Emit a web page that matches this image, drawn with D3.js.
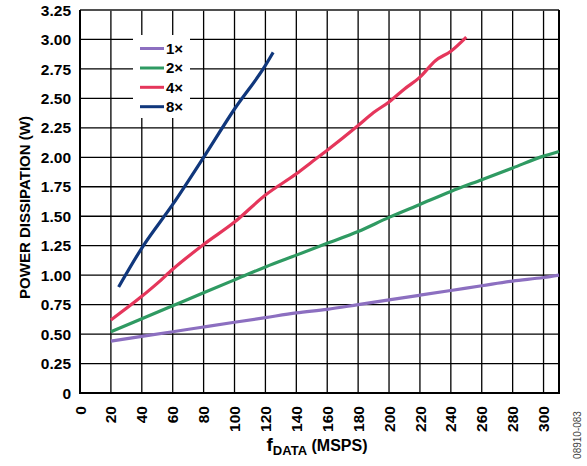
<!DOCTYPE html>
<html><head><meta charset="utf-8">
<script src="https://cdn.jsdelivr.net/npm/d3@7"></script>
<style>
body{margin:0;background:#fff;}
svg text{font-family:"Liberation Sans",Arial,sans-serif;font-weight:bold;}
</style></head>
<body><svg id="c" width="587" height="466"></svg>
<script>
const xTicks = [0,20,40,60,80,100,120,140,160,180,200,220,240,260,280,300];
const yTicks = [0,0.25,0.5,0.75,1.0,1.25,1.5,1.75,2.0,2.25,2.5,2.75,3.0,3.25];
const seriesNames = ["1×","2×","4×","8×"];
const seriesColors = ["#8c6fc0","#2f9a62","#e5365b","#10377c"];
const x1 = [20,40,60,80,100,120,140,160,180,200,220,240,260,280,300,310];
const y1 = [0.44,0.48,0.52,0.56,0.60,0.64,0.68,0.71,0.75,0.79,0.83,0.87,0.91,0.95,0.98,1.00];
const x2 = [20,40,60,80,100,120,140,160,180,200,220,240,260,280,300,310];
const y2 = [0.52,0.63,0.74,0.85,0.96,1.07,1.17,1.27,1.37,1.49,1.60,1.71,1.81,1.91,2.01,2.05];
const x4 = [20,40,50,60,80,100,120,140,150,160,180,190,200,210,220,230,240,250];
const y4 = [0.62,0.82,0.93,1.05,1.26,1.45,1.68,1.86,1.96,2.06,2.27,2.38,2.47,2.58,2.68,2.82,2.90,3.02];
const x8 = [25,40,60,80,100,120,125];
const y8 = [0.90,1.23,1.60,2.00,2.41,2.78,2.89];

const svg = d3.select("#c");
const L=80,R=559,T=10,B=393;
const x = d3.scaleLinear().domain([0,310]).range([L,R]);
const y = d3.scaleLinear().domain([0,3.25]).range([B,T]);

// grid
const g = svg.append("g");
g.selectAll(".vg").data(xTicks.filter(d=>d>0)).enter().append("line")
 .attr("x1",d=>x(d)).attr("x2",d=>x(d)).attr("y1",T).attr("y2",B)
 .attr("stroke","#000").attr("stroke-width",1.3);
g.selectAll(".hg").data(yTicks.filter(d=>d>0)).enter().append("line")
 .attr("x1",L).attr("x2",R).attr("y1",d=>y(d)).attr("y2",d=>y(d))
 .attr("stroke","#000").attr("stroke-width",1.3);
// frame
svg.append("line").attr("x1",L).attr("x2",R).attr("y1",T).attr("y2",T).attr("stroke","#555").attr("stroke-width",1.3);
svg.append("line").attr("x1",R).attr("x2",R).attr("y1",T).attr("y2",B).attr("stroke","#000").attr("stroke-width",2);
svg.append("line").attr("x1",L).attr("x2",L).attr("y1",T).attr("y2",B+1).attr("stroke","#000").attr("stroke-width",2);
svg.append("line").attr("x1",L-1).attr("x2",R+1).attr("y1",B).attr("y2",B).attr("stroke","#000").attr("stroke-width",2.2);

// y tick labels
svg.selectAll(".yl").data(yTicks).enter().append("text")
 .attr("x",71).attr("y",d=>y(d)).attr("dy","0.36em").attr("text-anchor","end")
 .attr("font-size",15.5).text(d=>d===0?"0":d3.format(".2f")(d));
// x tick labels
svg.selectAll(".xl").data(xTicks).enter().append("text")
 .attr("transform",d=>`translate(${x(d)},406) rotate(-90)`)
 .attr("dy","0.36em").attr("text-anchor","end")
 .attr("font-size",15.5).text(d=>d);

// lines
const line = d3.line().curve(d3.curveMonotoneX).x(d=>x(d[0])).y(d=>y(d[1]));
const data = [[x1,y1],[x2,y2],[x4,y4],[x8,y8]];
data.forEach((s,i)=>{
  const pts = s[0].map((v,j)=>[v,s[1][j]]);
  svg.append("path").datum(pts).attr("d",line).attr("fill","none")
   .attr("stroke",seriesColors[i]).attr("stroke-width",3.2).attr("stroke-linejoin","round");
});

// legend
svg.append("rect").attr("x",133).attr("y",35).attr("width",57).attr("height",83).attr("fill","#fff");
const ly=[48.5,68,87.3,106.7];
seriesNames.forEach((n,i)=>{
  svg.append("line").attr("x1",140).attr("x2",164).attr("y1",ly[i]).attr("y2",ly[i])
   .attr("stroke",seriesColors[i]).attr("stroke-width",3);
  svg.append("text").attr("x",166).attr("y",ly[i]).attr("dy","0.36em").attr("font-size",15).text(n);
});

// axis titles
const xt = svg.append("text").attr("x",317).attr("y",451).attr("text-anchor","middle");
xt.append("tspan").attr("font-size",19).text("f");
xt.append("tspan").attr("font-size",13).attr("dy",4).text("DATA");
xt.append("tspan").attr("font-size",16).attr("dy",-4).text(" (MSPS)");

svg.append("text").attr("transform","translate(29.5,207.5) rotate(-90)").attr("text-anchor","middle")
 .attr("font-size",15).text("POWER DISSIPATION (W)");

svg.append("text").attr("transform","translate(581,435) rotate(-90)").attr("text-anchor","middle")
 .attr("font-size",10).attr("fill","#444").style("font-weight","normal").text("08910-083");
</script></body></html>
